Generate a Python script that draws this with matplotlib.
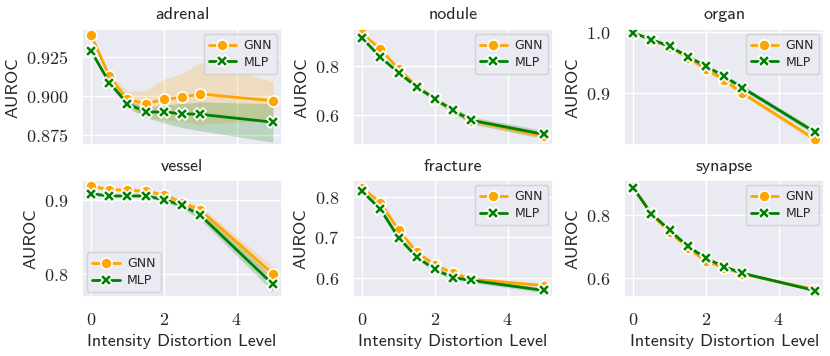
import matplotlib
matplotlib.use("Agg")
import matplotlib.pyplot as plt
import seaborn as sns
from matplotlib.ticker import FormatStrFormatter, FixedLocator

sns.set_theme(style="darkgrid")
plt.rcParams['mathtext.fontset'] = 'cm'
plt.rcParams['font.family'] = ['DejaVu Sans']

levels = [0, 0.5, 1, 1.5, 2, 2.5, 3, 5]
titles = ["adrenal", "nodule", "organ", "vessel", "fracture", "synapse"]

gnn_mean = {
    "adrenal": [0.9391, 0.9128, 0.898, 0.8953, 0.898, 0.8994, 0.9015, 0.8972],
    "nodule": [0.931, 0.868, 0.787, 0.718, 0.666, 0.620, 0.578, 0.516],
    "organ": [0.999, 0.988, 0.9755, 0.958, 0.939, 0.9205, 0.899, 0.822],
    "vessel": [0.9193, 0.9144, 0.914, 0.912, 0.9077, 0.8969, 0.887, 0.800],
    "fracture": [0.822, 0.786, 0.718, 0.663, 0.631, 0.611, 0.596, 0.580],
    "synapse": [0.886, 0.801, 0.745, 0.695, 0.652, 0.632, 0.612, 0.562],
}
gnn_lo = {
    "adrenal": [0.938, 0.911, 0.893, 0.887, 0.885, 0.884, 0.882, 0.885],
    "nodule": [0.925, 0.862, 0.781, 0.712, 0.658, 0.610, 0.566, 0.502],
    "organ": [0.998, 0.986, 0.973, 0.955, 0.935, 0.916, 0.895, 0.818],
    "vessel": [0.917, 0.912, 0.911, 0.909, 0.904, 0.893, 0.882, 0.790],
    "fracture": [0.817, 0.780, 0.712, 0.657, 0.625, 0.605, 0.591, 0.574],
    "synapse": [0.882, 0.796, 0.738, 0.688, 0.645, 0.627, 0.608, 0.557],
}
gnn_hi = {
    "adrenal": [0.9402, 0.9146, 0.9034, 0.9038, 0.911, 0.9145, 0.9213, 0.9096],
    "nodule": [0.937, 0.874, 0.793, 0.724, 0.674, 0.630, 0.590, 0.530],
    "organ": [1.000, 0.990, 0.978, 0.961, 0.943, 0.925, 0.903, 0.826],
    "vessel": [0.9216, 0.9168, 0.917, 0.915, 0.911, 0.901, 0.892, 0.810],
    "fracture": [0.827, 0.792, 0.724, 0.669, 0.637, 0.617, 0.601, 0.586],
    "synapse": [0.890, 0.806, 0.752, 0.702, 0.659, 0.637, 0.616, 0.567],
}
mlp_mean = {
    "adrenal": [0.929, 0.9088, 0.8953, 0.890, 0.890, 0.8889, 0.8885, 0.8835],
    "nodule": [0.912, 0.836, 0.772, 0.715, 0.666, 0.620, 0.580, 0.523],
    "organ": [0.999, 0.988, 0.977, 0.9595, 0.944, 0.9267, 0.908, 0.834],
    "vessel": [0.909, 0.906, 0.906, 0.906, 0.901, 0.8932, 0.880, 0.786],
    "fracture": [0.814, 0.770, 0.699, 0.651, 0.620, 0.600, 0.593, 0.568],
    "synapse": [0.884, 0.803, 0.750, 0.700, 0.661, 0.635, 0.614, 0.559],
}
mlp_lo = {
    "adrenal": [0.928, 0.9075, 0.893, 0.8865, 0.883, 0.880, 0.878, 0.8707],
    "nodule": [0.908, 0.831, 0.766, 0.708, 0.657, 0.608, 0.566, 0.507],
    "organ": [0.998, 0.987, 0.975, 0.957, 0.941, 0.923, 0.904, 0.829],
    "vessel": [0.907, 0.904, 0.904, 0.904, 0.898, 0.889, 0.874, 0.776],
    "fracture": [0.810, 0.765, 0.694, 0.646, 0.615, 0.595, 0.588, 0.562],
    "synapse": [0.881, 0.800, 0.746, 0.696, 0.657, 0.631, 0.610, 0.555],
}
mlp_hi = {
    "adrenal": [0.930, 0.910, 0.8975, 0.893, 0.8945, 0.8955, 0.8964, 0.8953],
    "nodule": [0.916, 0.841, 0.778, 0.722, 0.675, 0.632, 0.594, 0.539],
    "organ": [1.000, 0.989, 0.979, 0.962, 0.947, 0.930, 0.912, 0.839],
    "vessel": [0.911, 0.908, 0.908, 0.908, 0.904, 0.897, 0.886, 0.796],
    "fracture": [0.818, 0.775, 0.704, 0.656, 0.625, 0.605, 0.598, 0.574],
    "synapse": [0.887, 0.806, 0.754, 0.704, 0.665, 0.639, 0.618, 0.563],
}

yticks = {
    "adrenal": [0.875, 0.900, 0.925],
    "nodule": [0.6, 0.8],
    "organ": [0.9, 1.0],
    "vessel": [0.8, 0.9],
    "fracture": [0.6, 0.7, 0.8],
    "synapse": [0.6, 0.8],
}
ylims = {
    "adrenal": (0.8686, 0.943),
    "nodule": (0.478, 0.949),
    "organ": (0.812, 1.0055),
    "vessel": (0.769, 0.927),
    "fracture": (0.552, 0.841),
    "synapse": (0.539, 0.908),
}
xticks = [0, 2, 4]
legend_loc = {"vessel": "lower left"}

GNN_C = "#FFA500"
MLP_C = "#008000"
FS = 13

fig, axes = plt.subplots(2, 3, figsize=(8.3, 3.56), dpi=100, sharex=True)
fig.subplots_adjust(left=0.0988, right=0.993, top=0.9185, bottom=0.166,
                    wspace=0.355, hspace=0.30)

for ax, name in zip(axes.flat, titles):
    ax.fill_between(levels, gnn_lo[name], gnn_hi[name], color=GNN_C, alpha=0.2, lw=0)
    ax.fill_between(levels, mlp_lo[name], mlp_hi[name], color=MLP_C, alpha=0.2, lw=0)
    ax.plot(levels, gnn_mean[name], color=GNN_C, lw=2, marker='o', ms=8,
            mec='white', mew=1.2, label='GNN')
    ax.plot(levels, mlp_mean[name], color=MLP_C, lw=2, marker='X', ms=8,
            mec='white', mew=1.2, label='MLP')
    ax.set_title(name, family='cmss10', fontsize=FS, pad=7)
    ax.set_ylabel('AUROC', family='cmss10', fontsize=FS)
    ax.yaxis.set_major_locator(FixedLocator(yticks[name]))
    fmt = '$%.3f$' if name == 'adrenal' else '$%.1f$'
    ax.yaxis.set_major_formatter(FormatStrFormatter(fmt))
    ax.set_ylim(*ylims[name])
    ax.xaxis.set_major_locator(FixedLocator(xticks))
    ax.xaxis.set_major_formatter(FormatStrFormatter('$%d$'))
    ax.tick_params(labelsize=FS, pad=4)
    ax.legend(loc=legend_loc.get(name, 'upper right'), fontsize=9,
              handlelength=2.2, borderpad=0.4, labelspacing=0.3,
              borderaxespad=0.4, handletextpad=0.6)

for ax in axes[1]:
    ax.set_xlabel('Intensity Distortion Level', family='cmss10', fontsize=FS)

fig.savefig('out.png', dpi=100)
